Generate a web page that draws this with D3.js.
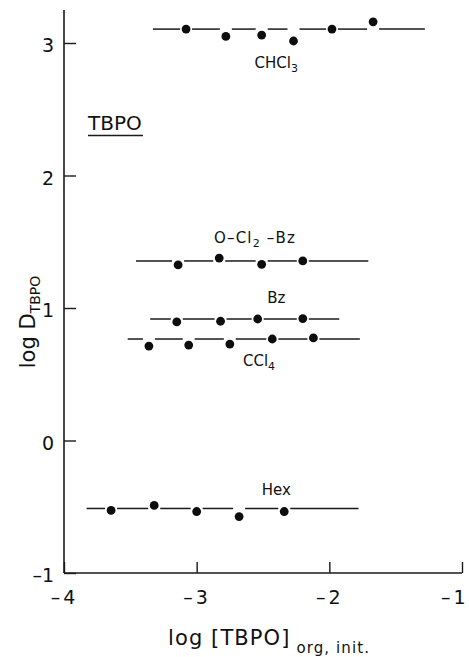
<!DOCTYPE html>
<html>
<head>
<meta charset="utf-8">
<script src="https://cdn.jsdelivr.net/npm/d3@7"></script>
<style>
  html, body { margin: 0; padding: 0; background: #fff; }
  svg { display: block; }
  text { font-family: "DejaVu Sans", "Liberation Sans", sans-serif; fill: #111; }
</style>
</head>
<body>
<svg id="chart" width="469" height="657"></svg>
<script>
// Solvent series: log[TBPO] (x) vs log D (y)
const solvents = ["CHCl3", "O-Cl2-Bz", "Bz", "CCl4", "Hex"];

const chcl3X = [-3.08, -2.78, -2.51, -2.27, -1.98, -1.67];
const chcl3Y = [3.105, 3.05, 3.06, 3.015, 3.105, 3.16];

const oclbzX = [-3.14, -2.83, -2.51, -2.20];
const oclbzY = [1.325, 1.377, 1.33, 1.355];

const bzX = [-3.15, -2.82, -2.54, -2.20];
const bzY = [0.895, 0.90, 0.917, 0.92];

const ccl4X = [-3.36, -3.06, -2.75, -2.43, -2.12];
const ccl4Y = [0.713, 0.72, 0.728, 0.766, 0.774];

const hexX = [-3.645, -3.32, -3.0, -2.68, -2.34];
const hexY = [-0.528, -0.49, -0.536, -0.574, -0.536];

// Horizontal mean lines: level and x-extent
const meanLevel = [3.105, 1.355, 0.917, 0.766, -0.513];
const meanStart = [-3.33, -3.457, -3.35, -3.52, -3.83];
const meanEnd = [-1.28, -1.706, -1.925, -1.77, -1.78];

const xTicks = [-4, -3, -2, -1];
const yTicks = [-1, 0, 1, 2, 3];

const svg = d3.select("#chart");
const x = d3.scaleLinear().domain([-4, -1]).range([64, 462]);
const y = d3.scaleLinear().domain([-1, 3]).range([573, 43]);

const ink = "#1a1a1a";
const fmt = d => d < 0 ? "\u2013" + Math.abs(d) : String(d);

// Axes
const xAxis = d3.axisBottom(x).tickValues(xTicks).tickSize(-11).tickFormat(fmt);
const gx = svg.append("g").attr("transform", `translate(0,${y(-1)})`).call(xAxis);
gx.select(".domain").attr("d", `M${x(-4)},0H${x(-1)}`).attr("stroke", ink).attr("stroke-width", 1.6);
gx.selectAll(".tick line").attr("stroke", ink).attr("stroke-width", 1.4);
gx.selectAll(".tick text").attr("font-size", 19).attr("dy", "1.45em").attr("fill", ink)
  .attr("letter-spacing", 3)
  .attr("font-family", "DejaVu Sans, sans-serif");
// last label sits against the right edge
gx.selectAll(".tick text").filter(d => d === -1).attr("text-anchor", "end").attr("x", 468 - x(-1));

const yAxis = d3.axisLeft(y).tickValues(yTicks).tickSize(-12).tickFormat(fmt);
const gy = svg.append("g").attr("transform", `translate(${x(-4)},0)`).call(yAxis);
gy.select(".domain").attr("d", `M0,10V${y(-1)}`).attr("stroke", ink).attr("stroke-width", 1.6);
gy.selectAll(".tick line").attr("stroke", ink).attr("stroke-width", 1.4);
gy.selectAll(".tick text").attr("font-size", 19).attr("x", -10).attr("dy", "0.45em").attr("fill", ink)
  .attr("font-family", "DejaVu Sans, sans-serif");

const series = [
  { xs: chcl3X, ys: chcl3Y },
  { xs: oclbzX, ys: oclbzY },
  { xs: bzX, ys: bzY },
  { xs: ccl4X, ys: ccl4Y },
  { xs: hexX, ys: hexY }
];

const gap = 6;
series.forEach((s, i) => {
  const lvl = y(meanLevel[i]);
  // mean line broken around each data point
  const cuts = [x(meanStart[i])];
  s.xs.forEach(v => { cuts.push(x(v) - gap, x(v) + gap); });
  cuts.push(x(meanEnd[i]));
  for (let k = 0; k < cuts.length; k += 2) {
    svg.append("line")
      .attr("x1", cuts[k]).attr("x2", cuts[k + 1])
      .attr("y1", lvl).attr("y2", lvl)
      .attr("stroke", ink).attr("stroke-width", 1.5);
  }
  svg.selectAll(null).data(s.xs.map((v, j) => [v, s.ys[j]])).enter()
    .append("circle")
    .attr("cx", d => x(d[0])).attr("cy", d => y(d[1]))
    .attr("r", 4.4).attr("fill", "#0d0d0d");
});

// Series labels
function label(cx, cy) {
  return svg.append("text").attr("x", cx).attr("y", cy).attr("text-anchor", "middle").attr("font-size", 15);
}
const l1 = label(x(-2.4), y(2.81));
l1.append("tspan").text("CHCl");
l1.append("tspan").attr("font-size", 11).attr("dy", 4).text("3");

const l2 = label(x(-2.56), y(1.49)).attr("letter-spacing", 1.2);
l2.append("tspan").text("O\u2013Cl");
l2.append("tspan").attr("font-size", 11).attr("dy", 4).text("2");
l2.append("tspan").attr("dy", -4).text(" \u2013Bz");

label(x(-2.4), y(1.04)).text("Bz");

const l4 = label(x(-2.53), y(0.56));
l4.append("tspan").text("CCl");
l4.append("tspan").attr("font-size", 11).attr("dy", 4).text("4");

label(x(-2.4), y(-0.41)).text("Hex");

// Panel label
svg.append("text").attr("x", 88).attr("y", 130).attr("font-size", 20).text("TBPO");
svg.append("line").attr("x1", 88).attr("x2", 143).attr("y1", 135.5).attr("y2", 135.5)
  .attr("stroke", ink).attr("stroke-width", 1.4);

// Axis titles
const yt = svg.append("text").attr("transform", "translate(35,322) rotate(-90)")
  .attr("text-anchor", "middle").attr("font-size", 21);
yt.append("tspan").text("log D");
yt.append("tspan").attr("font-size", 14).attr("dy", 5).text("TBPO");

const xt = svg.append("text").attr("x", 168).attr("y", 645).attr("font-size", 21).attr("letter-spacing", 1.1);
xt.append("tspan").text("log [TBPO]");
xt.append("tspan").attr("font-size", 15).attr("dy", 8).text(" org, init.");
</script>
</body>
</html>
